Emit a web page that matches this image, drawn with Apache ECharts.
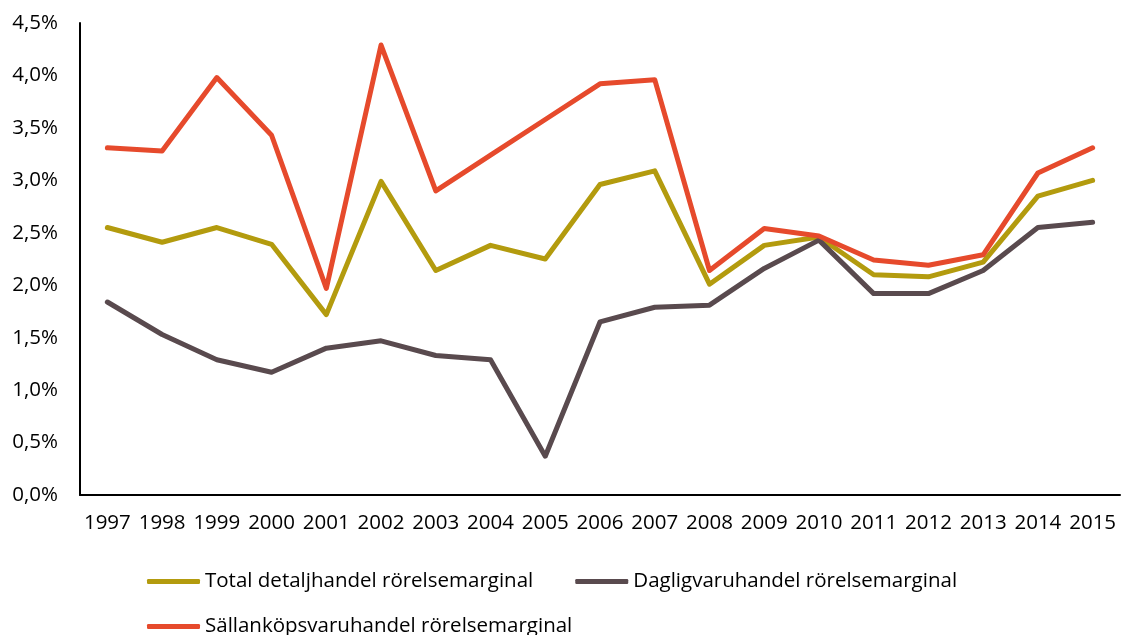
<!DOCTYPE html>
<html>
<head>
<meta charset="utf-8">
<script src="https://cdn.jsdelivr.net/npm/echarts@6/dist/echarts.min.js"></script>
<style>
  html, body { margin: 0; padding: 0; background: #fff; }
  #chart { width: 1127px; height: 635px; }
</style>
</head>
<body>
<div id="chart"></div>
<script>
const years = ['1997', '1998', '1999', '2000', '2001', '2002', '2003', '2004', '2005', '2006',
  '2007', '2008', '2009', '2010', '2011', '2012', '2013', '2014', '2015'];

const totalMargin = [2.55, 2.41, 2.55, 2.39, 1.72, 2.99, 2.14, 2.38, 2.25, 2.96,
  3.09, 2.01, 2.38, 2.46, 2.10, 2.08, 2.22, 2.85, 3.00];
const dagligMargin = [1.84, 1.53, 1.29, 1.17, 1.40, 1.47, 1.33, 1.29, 0.37, 1.65,
  1.79, 1.81, 2.16, 2.43, 1.92, 1.92, 2.14, 2.55, 2.60];
const sallanMargin = [3.31, 3.28, 3.98, 3.43, 1.97, 4.29, 2.90, 3.24, 3.58, 3.92,
  3.96, 2.14, 2.54, 2.47, 2.24, 2.19, 2.29, 3.07, 3.31];

const names = ['Total detaljhandel rörelsemarginal', 'Dagligvaruhandel rörelsemarginal', 'Sällanköpsvaruhandel rörelsemarginal'];
const colors = ['#B39B0E', '#594A4E', '#E64A2C'];

const chart = echarts.init(document.getElementById('chart'));
const font = '"Open Sans", sans-serif';

const mkSeries = (name, data, color) => ({
  name: name,
  type: 'line',
  data: data,
  symbol: 'none',
  lineStyle: { width: 5, color: color, cap: 'round', join: 'round' },
  itemStyle: { color: color }
});

const legendBase = {
  left: 142,
  icon: 'roundRect',
  itemWidth: 53,
  itemHeight: 5,
  itemGap: 42,
  textStyle: { fontFamily: font, fontSize: 20.5, color: '#000' }
};

chart.setOption({
  animation: false,
  grid: { left: 80, top: 23, right: 7, bottom: 140 },
  legend: [
    Object.assign({}, legendBase, { top: 566, data: [names[0], names[1]] }),
    Object.assign({}, legendBase, { top: 611, data: [names[2]] })
  ],
  xAxis: {
    type: 'category',
    data: years,
    boundaryGap: true,
    axisLine: { lineStyle: { color: '#000', width: 2 } },
    axisTick: { show: false },
    axisLabel: { color: '#000', fontFamily: font, fontSize: 20.5, margin: 18, interval: 0 }
  },
  yAxis: {
    type: 'value',
    min: 0,
    max: 4.5,
    interval: 0.5,
    axisLine: { show: true, lineStyle: { color: '#000', width: 2 } },
    axisTick: { show: false },
    splitLine: { show: false },
    axisLabel: {
      color: '#000', fontFamily: font, fontSize: 20.5, margin: 22,
      formatter: v => v.toFixed(1).replace('.', ',') + '%'
    }
  },
  series: [
    mkSeries(names[0], totalMargin, colors[0]),
    mkSeries(names[1], dagligMargin, colors[1]),
    mkSeries(names[2], sallanMargin, colors[2])
  ]
});
</script>
</body>
</html>
